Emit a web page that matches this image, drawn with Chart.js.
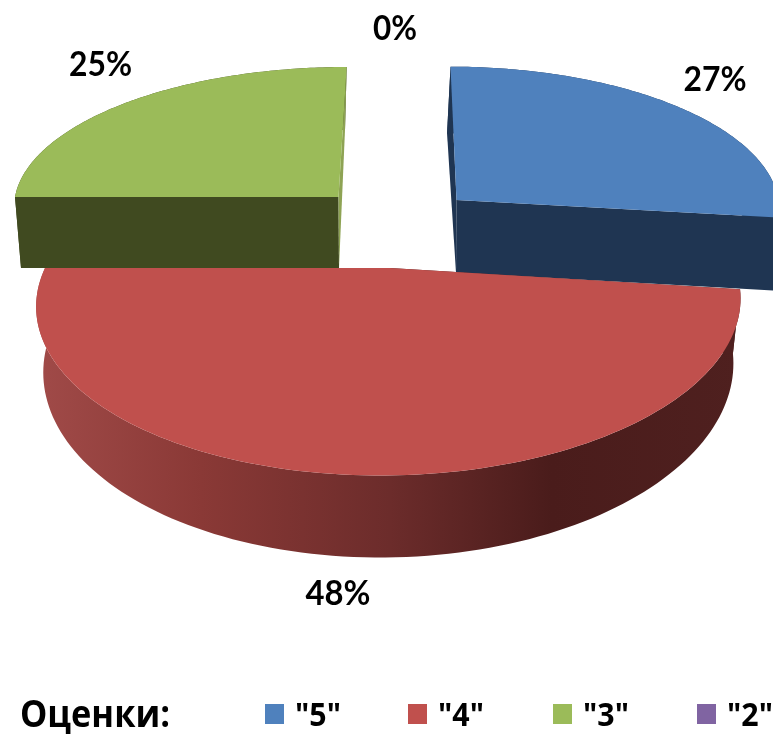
<!DOCTYPE html>
<html>
<head>
<meta charset="utf-8">
<style>
  html, body { margin: 0; padding: 0; background: #fff; overflow: hidden; }
  canvas { display: block; }
</style>
<script src="https://cdn.jsdelivr.net/npm/chart.js@4"></script>
</head>
<body>
<canvas id="chart" width="773" height="734"></canvas>
<script>
const legendTitle = 'Оценки:';
const categories = ['"5"', '"4"', '"3"', '"2"'];
const percents = [27, 48, 25, 0];
const colors = ['#4f81bd', '#c0504d', '#9bbb59', '#8064a2'];

// projection of each slice: top surface and bottom surface (perspective pie)
const slices3d = [
    {
        top: { cx: 456.5, cy: 200, A: 322, B: 140, k: 0.05, s: 6.3 },
        bot: { cx: 456, cy: 272.5, A: 322, B: 146, k: 0.05, s: 9.4 },
        wall: '#1f3552', startFace: '#1f3552', endFace: '#1f3552'
    },
    {
        top: { cx: 390, cy: 268, A: 345, B: 166, k: 0.2, s: -8 },
        bot: { cx: 390, cy: 330, A: 338, B: 182, k: 0.2, s: -8 },
        wall: 'gradient', startFace: '#4f201f', endFace: '#a04a48'
    },
    {
        top: { cx: 338.5, cy: 197, A: 323.5, B: 136.5, k: 0.05, s: -8.6 },
        bot: { cx: 339, cy: 268, A: 318, B: 145, k: 0.05, s: -6.3 },
        wall: '#404a20', startFace: '#404a20', endFace: '#8ea354'
    },
    null
];
const drawOrder = [0, 2, 1];
const labelPos = [[715, 80], [338, 594], [100.5, 65.5], [395, 29.5]];
const labelWidth = [63, 65, 63, 44];
const legendX = [265, 408, 553, 697];

function project(p, angle) {
    const a = Math.cos(angle), b = Math.sin(angle);
    const w = 1 - p.k * b;
    return [p.cx + (p.A * a + p.s * b) / w, p.cy + p.B * b / w];
}

function tracePath(ctx, p, from, to, first) {
    const n = 120;
    for (let i = 0; i <= n; i++) {
        const pt = project(p, from + (to - from) * i / n);
        if (first && i === 0) ctx.moveTo(pt[0], pt[1]);
        else ctx.lineTo(pt[0], pt[1]);
    }
}

function fillPoly(ctx, pts, color) {
    ctx.beginPath();
    pts.forEach((pt, i) => i ? ctx.lineTo(pt[0], pt[1]) : ctx.moveTo(pt[0], pt[1]));
    ctx.closePath();
    ctx.fillStyle = color;
    ctx.fill();
}

const pie3d = {
    id: 'pie3d',
    beforeDatasetsDraw(chart) {
        const ctx = chart.ctx;
        const arcs = chart.getDatasetMeta(0).data;

        const wallGradient = ctx.createLinearGradient(40, 0, 740, 0);
        wallGradient.addColorStop(0, '#a04a48');
        wallGradient.addColorStop(0.23, '#8a3936');
        wallGradient.addColorStop(0.5, '#6c2c2b');
        wallGradient.addColorStop(0.73, '#4a1c1b');
        wallGradient.addColorStop(1, '#4f201f');

        ctx.save();
        drawOrder.forEach(i => {
            const arc = arcs[i];
            const s = slices3d[i];
            if (!s || arc.circumference === 0) return;
            const from = arc.startAngle, to = arc.endAngle;
            const wall = s.wall === 'gradient' ? wallGradient : s.wall;

            // outer wall between bottom and top rim
            ctx.beginPath();
            tracePath(ctx, s.top, from, to, true);
            tracePath(ctx, s.bot, to, from, false);
            ctx.closePath();
            ctx.fillStyle = wall;
            ctx.fill();

            // cut faces
            const apexTop = [s.top.cx, s.top.cy], apexBot = [s.bot.cx, s.bot.cy];
            fillPoly(ctx, [apexTop, project(s.top, from), project(s.bot, from), apexBot], s.startFace);
            fillPoly(ctx, [apexTop, project(s.top, to), project(s.bot, to), apexBot], s.endFace);

            // top surface
            ctx.beginPath();
            ctx.moveTo(apexTop[0], apexTop[1]);
            tracePath(ctx, s.top, from, to, false);
            ctx.closePath();
            ctx.fillStyle = arc.options.backgroundColor;
            ctx.fill();
        });

        // percent labels, the source is a soft upscaled image
        ctx.filter = 'blur(0.5px)';
        ctx.fillStyle = '#000';
        ctx.font = 'bold 34px Lato, "Open Sans", sans-serif';
        ctx.textAlign = 'center';
        ctx.textBaseline = 'middle';
        percents.forEach((v, i) => {
            ctx.fillText(v + '%', labelPos[i][0], labelPos[i][1], labelWidth[i]);
        });

        // legend
        ctx.textAlign = 'left';
        ctx.textBaseline = 'alphabetic';
        ctx.font = 'bold 38px "Open Sans", sans-serif';
        ctx.fillText(legendTitle, 20, 727, 150);
        ctx.font = 'bold 33px "Open Sans", sans-serif';
        categories.forEach((c, i) => {
            ctx.fillStyle = '#000';
            ctx.fillText(c, legendX[i] + 30, 726, 46);
        });
        ctx.filter = 'none';
        categories.forEach((c, i) => {
            ctx.fillStyle = colors[i];
            ctx.fillRect(legendX[i], 704, 19, 20);
        });
        ctx.restore();
        return false;
    }
};

new Chart(document.getElementById('chart'), {
    type: 'pie',
    data: {
        labels: categories,
        datasets: [{ data: percents, backgroundColor: colors, borderWidth: 0 }]
    },
    options: {
        responsive: false,
        animation: false,
        plugins: { legend: { display: false }, tooltip: { enabled: false } }
    },
    plugins: [pie3d]
});
</script>
</body>
</html>
